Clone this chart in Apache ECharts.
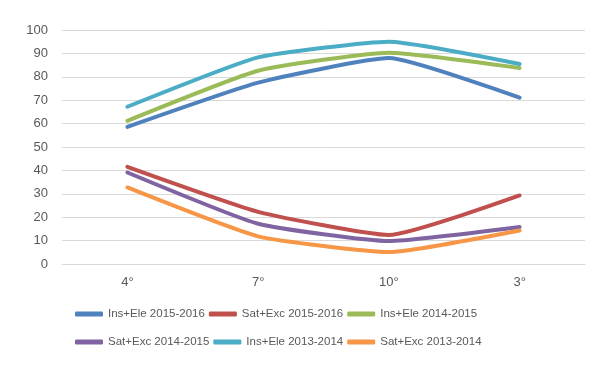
<!DOCTYPE html>
<html>
<head>
<meta charset="utf-8">
<script src="https://cdn.jsdelivr.net/npm/echarts@6/dist/echarts.min.js"></script>
<style>
  html, body { margin: 0; padding: 0; background: #fff; }
  #chart { width: 603px; height: 368px; }
</style>
</head>
<body>
<div id="chart"></div>
<script>
const categories = ['4°', '7°', '10°', '3°'];
const seriesNames = [
    'Ins+Ele 2015-2016', 'Sat+Exc 2015-2016', 'Ins+Ele 2014-2015',
    'Sat+Exc 2014-2015', 'Ins+Ele 2013-2014', 'Sat+Exc 2013-2014'
];
const insEle1516 = [58.6, 77.5, 88.0, 71.1];
const satExc1516 = [41.5, 22.3, 12.4, 29.3];
const insEle1415 = [61.2, 82.6, 90.3, 83.8];
const satExc1415 = [39.1, 17.2, 9.8, 15.8];
const insEle1314 = [67.2, 88.3, 95.0, 85.5];
const satExc1314 = [32.7, 11.8, 5.1, 14.3];
const colors = ['#4F81BD', '#C0504D', '#9BBB59', '#8064A2', '#4BACC6', '#F79646'];

const values = [insEle1516, satExc1516, insEle1415, satExc1415, insEle1314, satExc1314];

const legendOpt = (names, top) => ({
    data: names,
    top: top,
    left: 75,
    padding: 0,
    itemWidth: 28,
    itemHeight: 5,
    itemGap: 4,
    icon: 'roundRect',
    textStyle: {
        color: '#595959',
        fontSize: 11.5,
        fontFamily: 'Liberation Sans',
        width: 94,
        overflow: 'none'
    }
});

const chart = echarts.init(document.getElementById('chart'));
chart.setOption({
    animation: false,
    color: colors,
    grid: { left: 62, right: 18, top: 30, bottom: 104 },
    legend: [
        legendOpt(seriesNames.slice(0, 3), 308),
        legendOpt(seriesNames.slice(3), 336)
    ],
    xAxis: {
        type: 'category',
        data: categories,
        boundaryGap: true,
        axisLine: { lineStyle: { color: '#d9d9d9' } },
        axisTick: { show: false },
        axisLabel: { color: '#595959', fontSize: 13, fontFamily: 'Liberation Sans', margin: 12 }
    },
    yAxis: {
        type: 'value',
        min: 0,
        max: 100,
        interval: 10,
        axisLabel: { color: '#595959', fontSize: 13, fontFamily: 'Liberation Sans', margin: 14 },
        splitLine: { lineStyle: { color: '#d9d9d9' } }
    },
    series: seriesNames.map((name, i) => ({
        name: name,
        type: 'line',
        data: values[i],
        symbol: 'none',
        smooth: 0.15,
        lineStyle: { width: 4, cap: 'round', join: 'round' }
    }))
});
</script>
</body>
</html>
